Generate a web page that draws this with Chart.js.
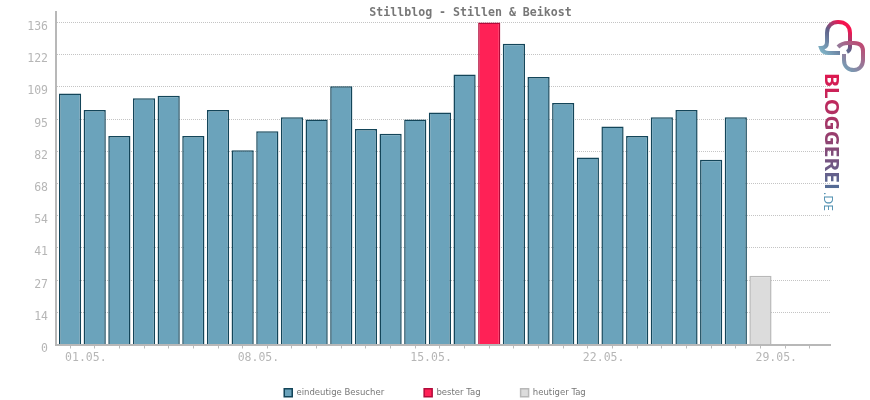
<!DOCTYPE html>
<html>
<head>
<meta charset="utf-8">
<style>
  html, body { margin: 0; padding: 0; background: #fff; }
  #wrap { position: relative; width: 870px; height: 400px; }
  #logo { position: absolute; left: 0; top: 0; }
</style>
<script src="https://cdn.jsdelivr.net/npm/chart.js@4"></script>
</head>
<body>
<div id="wrap">
  <canvas id="chart" width="870" height="400"></canvas>
  <svg id="logo" width="870" height="400">
    <defs>
      <linearGradient id="bubbleA" gradientUnits="userSpaceOnUse" x1="824" y1="54" x2="852" y2="24">
        <stop offset="0" stop-color="#7fb2c6"/>
        <stop offset="0.5" stop-color="#5f5f88"/>
        <stop offset="0.85" stop-color="#f4134f"/>
      </linearGradient>
      <linearGradient id="bubbleB" gradientUnits="userSpaceOnUse" x1="842" y1="70" x2="864" y2="44">
        <stop offset="0" stop-color="#6ea7bd"/>
        <stop offset="1" stop-color="#c2446f"/>
      </linearGradient>
      <linearGradient id="word" gradientUnits="userSpaceOnUse" x1="0" y1="0" x2="118" y2="0">
        <stop offset="0" stop-color="#e0174f"/>
        <stop offset="0.55" stop-color="#94406f"/>
        <stop offset="1" stop-color="#4f6f98"/>
      </linearGradient>
    </defs>
    <path d="M840 53 L829 53 C825 53 822 51 821 48 C825 48 827 46 827 42 L827 33 C827 26 832 22 838 22 C845 22 850 26 850 33 L850 47 C850 50 849 51 847 52" fill="none" stroke="url(#bubbleA)" stroke-width="4"/>
    <path d="M838 47 C841 44 844 43 848 43 L854 43 C860 43 863 46 863 51 L863 60 C863 66 859 70 854 70 C848 70 844 66 844 60 L844 54" fill="none" stroke="url(#bubbleB)" stroke-width="4"/>
    <text transform="translate(825 73) rotate(90)" font-family="Open Sans" font-size="19" textLength="117" lengthAdjust="spacingAndGlyphs" fill="url(#word)" style="font-weight:700">BLOGGEREI</text>
    <text transform="translate(824 192) rotate(90)" font-family="Open Sans" font-size="12" textLength="19" lengthAdjust="spacingAndGlyphs" fill="#4f8fb0">.DE</text>
  </svg>
</div>
<script>
// daily visitors, May
const days = ["01.05.","02.05.","03.05.","04.05.","05.05.","06.05.","07.05.","08.05.","09.05.","10.05.","11.05.",
  "12.05.","13.05.","14.05.","15.05.","16.05.","17.05.","18.05.","19.05.","20.05.","21.05.","22.05.","23.05.",
  "24.05.","25.05.","26.05.","27.05.","28.05.","29.05.","30.05.","31.05."];
const visitors = [106,99,88,104,105,88,99,82,90,96,95,109,91,89,95,98,114,null,127,113,102,79,92,88,96,99,78,96,null,null,null];
const bestDay = [null,null,null,null,null,null,null,null,null,null,null,null,null,null,null,null,null,136,null,null,null,null,null,null,null,null,null,null,null,null,null];
const today = [null,null,null,null,null,null,null,null,null,null,null,null,null,null,null,null,null,null,null,null,null,null,null,null,null,null,null,null,29,null,null];
const seriesNames = ["eindeutige Besucher", "bester Tag", "heutiger Tag"];
const yStep = 13.6;

function toPoints(values) {
  return values.map((v, i) => ({ x: i, y: v }));
}

// title and legend sit right of the page centre in the original
const shiftBlocks = {
  id: "shiftBlocks",
  afterLayout(chart) {
    chart.titleBlock.left = 71;
    chart.titleBlock.right = 870;
    chart.titleBlock.top = 0;
    chart.legend.left += 20;
    chart.legend.right += 20;
    chart.legend.top -= 18;
    chart.legend.bottom -= 18;
  },
};

function barSet(label, values, fill, edge) {
  return {
    label: label,
    data: toPoints(values),
    backgroundColor: fill,
    borderColor: edge,
    borderWidth: 1.5,
    barPercentage: 0.9,
    categoryPercentage: 1,
    grouped: false,
  };
}

new Chart("chart", {
  type: "bar",
  plugins: [shiftBlocks],
  data: {
    datasets: [
      barSet(seriesNames[0], visitors, "#6ba3bb", "#134559"),
      barSet(seriesNames[1], bestDay, "#ff2156", "#b30a3a"),
      barSet(seriesNames[2], today, "#dcdcdc", "#b8b8b8"),
    ],
  },
  options: {
    responsive: false,
    animation: false,
    devicePixelRatio: 1,
    layout: { padding: { left: 0, right: 40, top: 0, bottom: -25 } },
    plugins: {
      tooltip: { enabled: false },
      title: {
        display: true,
        text: "Stillblog - Stillen & Beikost",
        color: "#777777",
        font: { family: "DejaVu Sans Mono", size: 11.6, weight: "bold", lineHeight: "12px" },
        padding: { top: 7, bottom: -7 },
      },
      legend: {
        display: true,
        position: "bottom",
        labels: {
          boxWidth: 8,
          boxHeight: 8,
          padding: 40,
          color: "#777777",
          font: { family: "DejaVu Sans", size: 8.5 },
        },
      },
    },
    scales: {
      x: {
        type: "linear",
        offset: false,
        min: -0.57,
        max: 30.82,
        afterBuildTicks(scale) {
          scale.ticks = days.map((d, i) => ({ value: i }));
        },
        afterFit(scale) {
          scale.height = 22;
        },
        border: { color: "#b8b8b8", width: 2, z: 1 },
        grid: { offset: false, drawOnChartArea: false, drawTicks: true, tickLength: 4, tickColor: "#bbbbbb" },
        ticks: {
          autoSkip: false,
          maxRotation: 0,
          align: "start",
          labelOffset: -5,
          padding: 3,
          color: "#b6b6b6",
          font: { family: "DejaVu Sans Mono", size: 11.5 },
          callback(value, i) {
            return i % 7 === 0 ? days[i] : "";
          },
        },
      },
      y: {
        min: 0,
        max: 140.4,
        afterBuildTicks(scale) {
          scale.ticks = [];
          for (let n = 0; n <= 10; n++) {
            scale.ticks.push({ value: n * yStep });
          }
        },
        afterFit(scale) {
          scale.width = 56;
          scale.paddingTop = 0;
          scale.paddingBottom = 0;
        },
        border: { color: "#b8b8b8", width: 2, z: 1, dash: [1, 1] },
        grid: { drawTicks: false, color: "#c4c4c4", lineWidth: 1 },
        ticks: {
          padding: 8,
          labelOffset: 4.5,
          color: "#b6b6b6",
          font: { family: "DejaVu Sans Mono", size: 11.5 },
          callback(value) {
            return Math.round(value);
          },
        },
      },
    },
  },
});
</script>
</body>
</html>
